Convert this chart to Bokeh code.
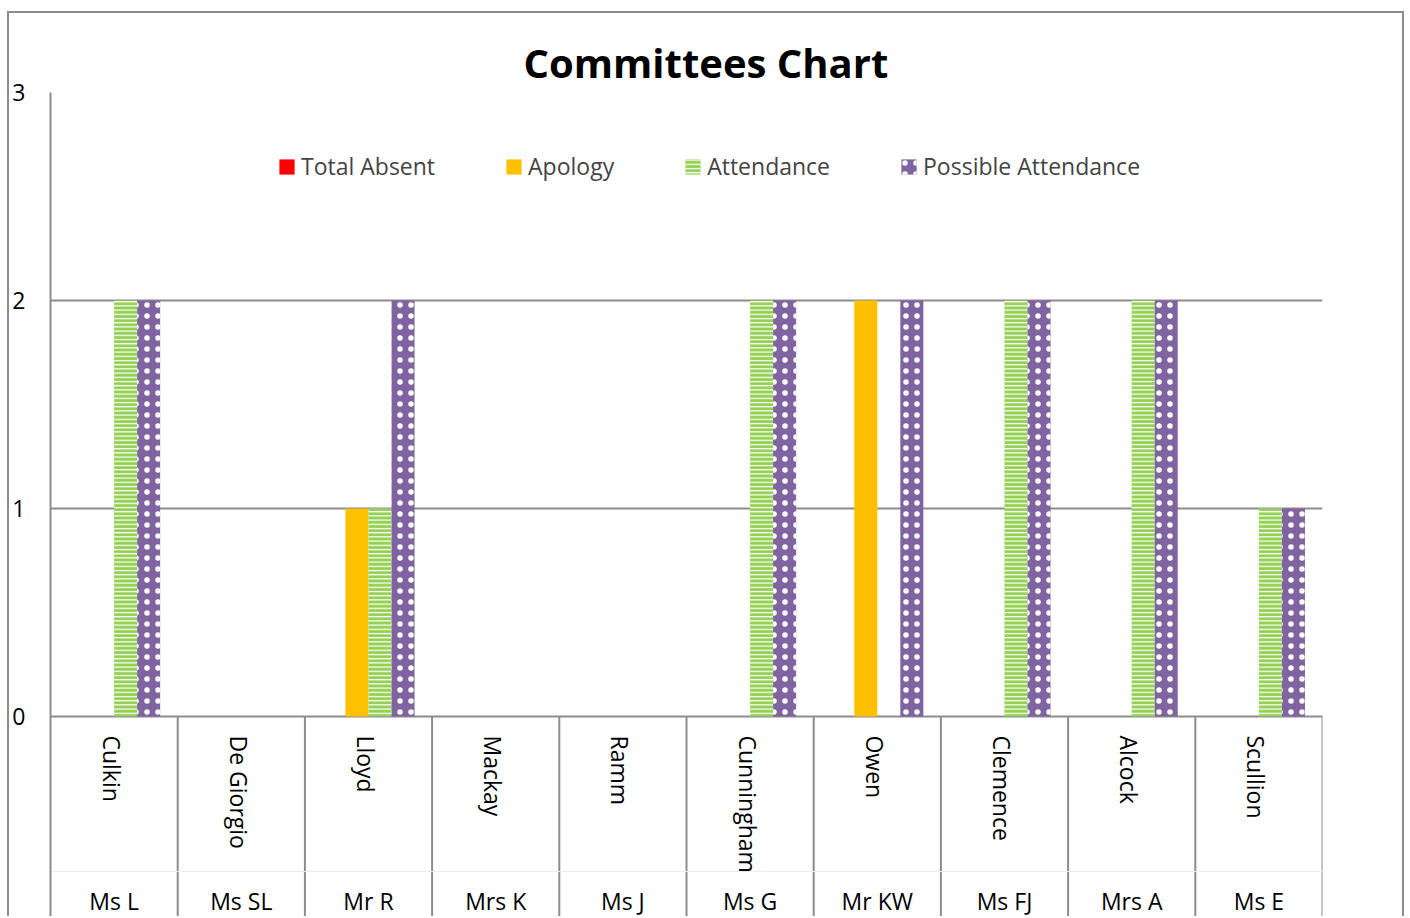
import numpy as np
from bokeh.plotting import figure
from bokeh.models import (ColumnDataSource, Range1d, FixedTicker, Legend, LegendItem, Title)
from bokeh.core.properties import value
from bokeh.embed import file_html
from bokeh.resources import INLINE

# ---- data ----
surnames = ["Culkin", "De Giorgio", "Lloyd", "Mackay", "Ramm",
            "Cunningham", "Owen", "Clemence", "Alcock", "Scullion"]
members = ["Ms L", "Ms SL", "Mr R", "Mrs K", "Ms J",
           "Ms G", "Mr KW", "Ms FJ", "Mrs A", "Ms E"]
total_absent = [0, 0, 0, 0, 0, 0, 0, 0, 0, 0]
apology = [0, 0, 1, 0, 0, 0, 2, 0, 0, 0]
attendance = [2, 0, 1, 0, 0, 2, 0, 2, 2, 1]
possible_attendance = [2, 0, 2, 0, 0, 2, 2, 2, 2, 1]
y_ticks = [0, 1, 2, 3]

FONT = "Open Sans"
GRID = "#8c8c8c"

n = len(surnames)
centers = np.arange(n) + 0.5
ybot = -0.971

p = figure(width=1397, height=905, output_backend="svg", toolbar_location=None,
           x_range=Range1d(0, n), y_range=Range1d(ybot, 3),
           x_axis_location=None, min_border_left=41, min_border_right=84,
           min_border_top=79, min_border_bottom=0)
p.styles = {"margin-left": "7px", "margin-top": "11px",
            "border": "2px solid #8c8c8c", "border-bottom": "none"}
p.outline_line_color = None
p.xgrid.visible = False
p.ygrid.ticker = FixedTicker(ticks=y_ticks)
p.ygrid.grid_line_color = GRID
p.ygrid.grid_line_width = 2
p.yaxis.ticker = FixedTicker(ticks=y_ticks)
p.yaxis.axis_line_color = GRID
p.yaxis.axis_line_width = 2
p.yaxis.major_tick_line_color = None
p.yaxis.minor_tick_line_color = None
p.yaxis.major_tick_out = 0
p.yaxis.major_tick_in = 0
p.yaxis.minor_tick_out = 0
p.yaxis.minor_tick_in = 0
p.yaxis.major_label_standoff = 25
p.yaxis.major_label_text_font = FONT
p.yaxis.major_label_text_font_size = "23px"
p.yaxis.major_label_text_color = "black"

bw = 0.181
series = [
    ("Total Absent", total_absent, -1.5, dict(fill_color="#FF0000")),
    ("Apology", apology, -0.5, dict(fill_color="#FFC000")),
    ("Attendance", attendance, 0.5, dict(fill_color="#92D050", hatch_pattern="horizontal_line",
                                         hatch_color="white", hatch_scale=4.2, hatch_weight=1.3)),
    ("Possible Attendance", possible_attendance, 1.5, dict(fill_color="#8064A2", hatch_pattern="dot",
                                                           hatch_color="white", hatch_scale=11,
                                                           hatch_weight=2)),
]
items = []
for name, vals, off, style in series:
    src = ColumnDataSource(dict(x=centers + off * bw, top=vals))
    r = p.vbar(x="x", top="top", bottom=0, width=bw, source=src, line_color=None, **style)
    items.append(LegendItem(label=name, renderers=[r]))

# category separators
sep_x = list(range(1, n + 1))
p.segment(x0=sep_x, y0=[0] * len(sep_x), x1=sep_x, y1=[ybot] * len(sep_x),
          line_color=GRID, line_width=2)
p.segment(x0=[0], y0=[-0.745], x1=[n], y1=[-0.745], line_color="#ececec", line_width=1)

# category labels
p.text(x=centers - 0.02, y=[-0.091] * n, text=surnames, angle=-np.pi / 2,
       text_align="left", text_baseline="middle", text_font=value(FONT),
       text_font_size="23px", text_color="black")
p.text(x=centers, y=[-0.885] * n, text=members, text_align="center",
       text_baseline="alphabetic", text_font=value(FONT),
       text_font_size="23px", text_color="black")

legend = Legend(items=items, orientation="horizontal", location=(227, 736),
                label_text_font=FONT, label_text_font_size="23px",
                glyph_width=19, glyph_height=19, label_standoff=5, spacing=69,
                padding=0, margin=0, border_line_color=None, background_fill_color=None)
p.add_layout(legend)

title = Title(text="Committees Chart", align="left", offset=473, standoff=5,
              text_font=FONT, text_font_style="bold", text_font_size="40px",
              text_color="black")
p.add_layout(title, "above")

open("out.html", "w").write(file_html(p, INLINE))
